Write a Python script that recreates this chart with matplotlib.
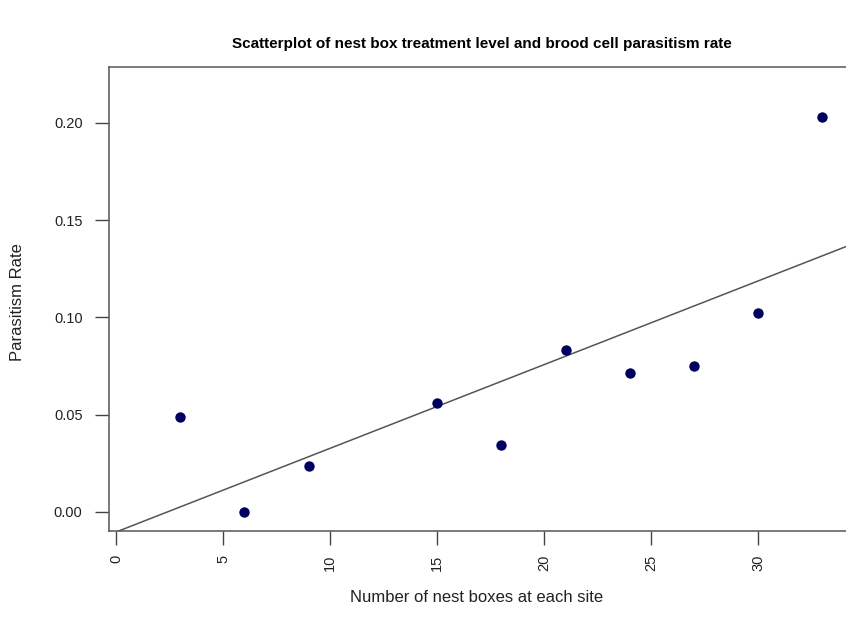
import numpy as np
import matplotlib
matplotlib.use('Agg')
import matplotlib.pyplot as plt

plt.rcParams['font.family'] = ['Liberation Sans', 'DejaVu Sans']

# nest boxes per site and parasitism rate
nest_boxes = [3, 6, 9, 15, 18, 21, 24, 27, 30, 33]
parasitism = [0.0487, 0.0, 0.0237, 0.0562, 0.0342, 0.0832, 0.0713, 0.0748, 0.102, 0.203]
x_ticks = [0, 5, 10, 15, 20, 25, 30]
y_ticks = [0.00, 0.05, 0.10, 0.15, 0.20]

fig = plt.figure(figsize=(8.46, 6.37), dpi=100)
ax = fig.add_axes([109 / 846, 1 - 531 / 637, 1 - 109 / 846, (531 - 67) / 637])

ax.scatter(nest_boxes, parasitism, s=56, color='#00005e', zorder=3, linewidths=0)

# least squares line, like abline(lm(...))
slope, intercept = np.polyfit(nest_boxes, parasitism, 1)
ax.axline((0, intercept), slope=slope, color='#555555', linewidth=1.1)

ax.set_xlim(-0.33, 34.1)
ax.set_ylim(-0.0098, 0.2287)
ax.set_xticks(x_ticks)
ax.set_xticklabels([str(t) for t in x_ticks], rotation=90)
ax.set_yticks(y_ticks)
ax.set_yticklabels(['%.2f' % t for t in y_ticks])
ax.tick_params(direction='out', length=10, width=1, color='#444444', labelsize=10.5,
               labelcolor='#222222')
ax.tick_params(axis='y', pad=9)
ax.tick_params(axis='x', pad=7)

for side in ['left', 'top', 'bottom']:
    ax.spines[side].set_color('#555555')
    ax.spines[side].set_linewidth(1.1)
ax.spines['right'].set_visible(False)

fig.text(482 / 846, 1 - 44 / 637, 'Scatterplot of nest box treatment level and brood cell parasitism rate',
         ha='center', va='center', fontsize=11, fontweight='bold')
fig.text(477 / 846, 1 - 597 / 637, 'Number of nest boxes at each site', ha='center', va='center',
         fontsize=12, color='#222222')
fig.text(18 / 846, 1 - 302 / 637, 'Parasitism Rate', ha='center', va='center', rotation=90,
         fontsize=12, color='#222222')

fig.savefig('out.png', dpi=100)
